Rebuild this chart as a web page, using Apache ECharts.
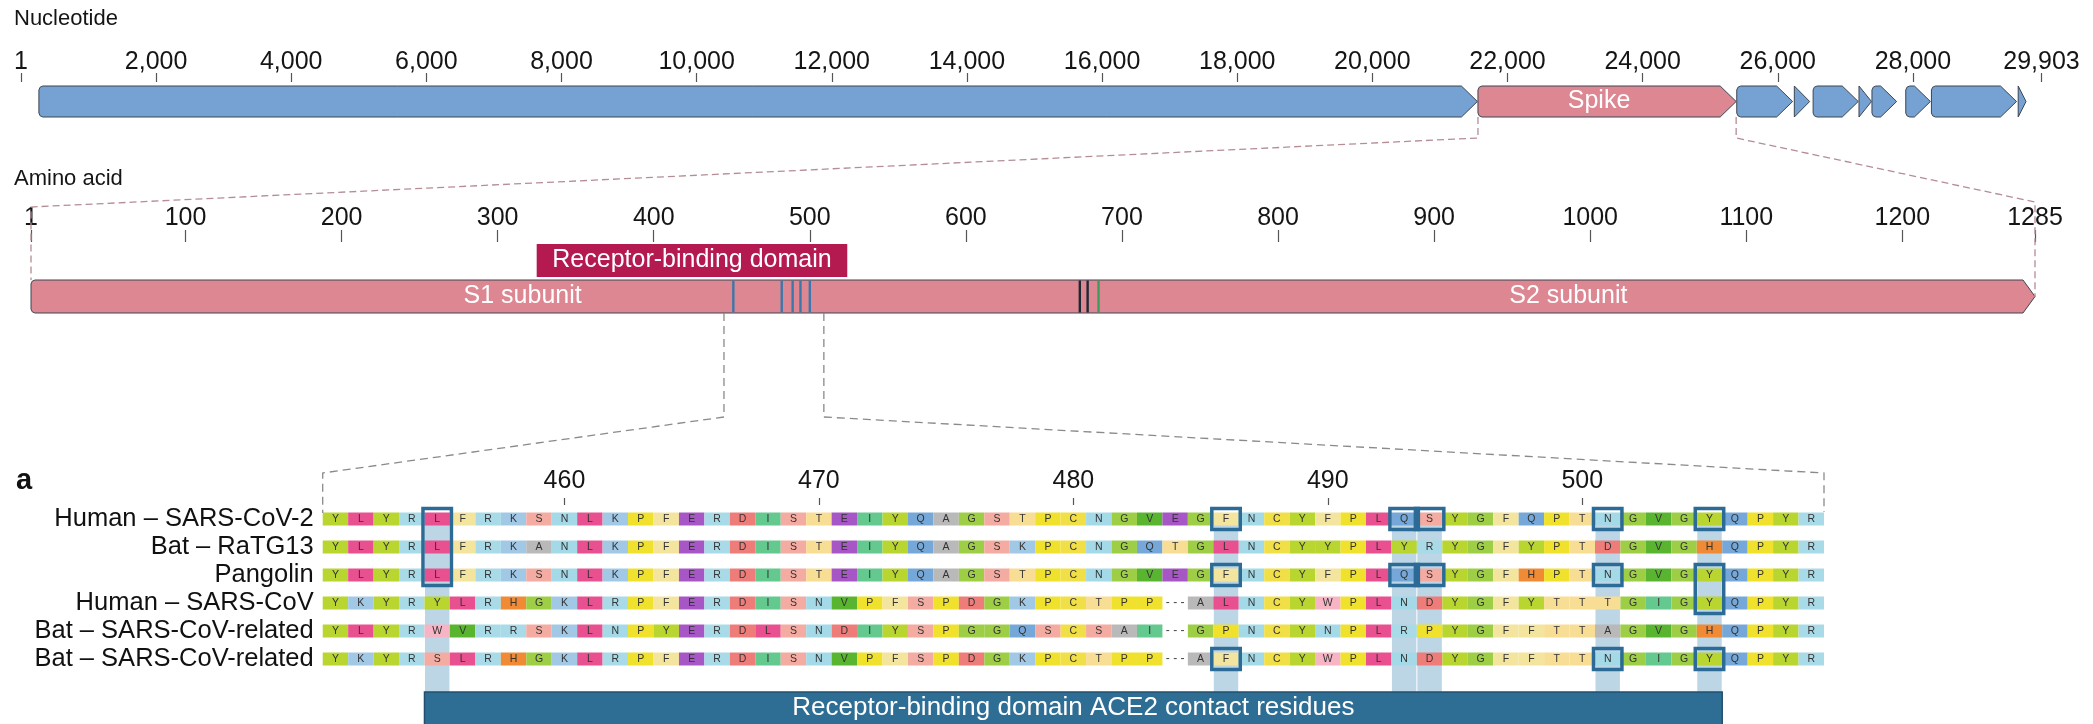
<!DOCTYPE html>
<html>
<head>
<meta charset="utf-8">
<title>SARS-CoV-2 genome, spike and RBD alignment</title>
<script src="https://cdn.jsdelivr.net/npm/echarts@6/dist/echarts.min.js"></script>
<style>
  html, body { margin: 0; padding: 0; background: #fff; }
  #chart { width: 2093px; height: 724px; }
</style>
</head>
<body>
<div id="chart"></div>
<script>
// ---- genome track (nucleotide) ----
const ntTicks = [1, 2000, 4000, 6000, 8000, 10000, 12000, 14000, 16000, 18000, 20000, 22000, 24000, 26000, 28000, 29903];
const geneNames = ['ORF1ab', 'Spike', 'ORF3a', 'E', 'M', 'ORF6', 'ORF7a', 'ORF8', 'N', 'ORF10'];
const geneStart = [266, 21563, 25393, 26245, 26523, 27202, 27394, 27894, 28274, 29558];
const geneEnd = [21555, 25384, 26220, 26472, 27191, 27387, 27759, 28259, 29533, 29674];

// ---- spike protein track (amino acid) ----
const aaTicks = [1, 100, 200, 300, 400, 500, 600, 700, 800, 900, 1000, 1100, 1200, 1285];
const spikeLength = 1285;
const rbdRange = [325, 524];
const subunitNames = ['S1 subunit', 'S2 subunit'];
const subunitLabelAt = [316, 986];
const rbdMarks = [451, 482, 489, 494, 500];
const cleavageMarks = [673, 678];
const glycanMarks = [685];
const zoomWindow = [445, 509];

// ---- alignment ----
const alignTicks = [460, 470, 480, 490, 500];
const alignStart = 451;
const seqNames = [
  'Human – SARS-CoV-2',
  'Bat – RaTG13',
  'Pangolin',
  'Human – SARS-CoV',
  'Bat – SARS-CoV-related',
  'Bat – SARS-CoV-related'
];
const sequences = [
  'YLYRLFRKSNLKPFERDISTEIYQAGSTPCNGVEGFNCYFPLQSYGFQPTNGVGYQPYR',
  'YLYRLFRKANLKPFERDISTEIYQAGSKPCNGQTGLNCYYPLYRYGFYPTDGVGHQPYR',
  'YLYRLFRKSNLKPFERDISTEIYQAGSTPCNGVEGFNCYFPLQSYGFHPTNGVGYQPYR',
  'YKYRYLRHGKLRPFERDISNVPFSPDGKPCTPP-ALNCYWPLNDYGFYTTTGIGYQPYR',
  'YLYRWVRRSKLNPYERDLSNDIYSPGGQSCSAI-GPNCYNPLRPYGFFTTAGVGHQPYR',
  'YKYRSLRHGKLRPFERDISNVPFSPDGKPCTPP-AFNCYWPLNDYGFFTTNGIGYQPYR'
];
const contactResidues = [455, 486, 493, 494, 501, 505];
const contactRange = [455, 505];
const boxResidue = [455, 486, 486, 486, 493, 494, 493, 494, 501, 501, 501, 505, 505, 505];
const boxRowFrom = [0, 0, 2, 5, 0, 0, 2, 2, 0, 2, 5, 0, 2, 5];
const boxRowTo = [2, 0, 2, 5, 0, 0, 2, 2, 0, 2, 5, 0, 3, 5];

// residue colours
const residueColor = {
  Y: '#b9d530', L: '#e8508f', R: '#a8dbe7', F: '#f4e59e', K: '#a1c9e6',
  S: '#f4aba1', N: '#a4d9e8', P: '#efe12c', E: '#a757c5', D: '#ee7d7a',
  I: '#63c98e', T: '#f8dd94', Q: '#75a8d8', A: '#b9b9b9', G: '#9dce46',
  C: '#f0df47', V: '#59b52f', H: '#f08a35', W: '#f6b4c4'
};

const FONT = "'Liberation Sans', Arial, Helvetica, sans-serif";
const BLUE_GENE = '#76a1d3';
const PINK = '#dc8792';
const OUTLINE = '#3b4652';

const cellData = [];
const cellLetters = [];
sequences.forEach((s, row) => {
  for (let c = 0; c < s.length; c++) {
    cellData.push([alignStart + c, row]);
    cellLetters.push(s[c]);
  }
});

function arrowPoints(x0, x1, top, bot, head, r) {
  const mid = (top + bot) / 2;
  if (x1 - x0 <= head) return [[x0, top], [x1, mid], [x0, bot]];
  const k = r * 0.3;
  return [
    [x0 + r, top], [x1 - head, top], [x1, mid], [x1 - head, bot], [x0 + r, bot],
    [x0 + k, bot - k], [x0, bot - r], [x0, top + r], [x0 + k, top + k]
  ];
}

const chart = echarts.init(document.getElementById('chart'));

const axisLabelStyle = { fontSize: 25, color: '#151515', fontFamily: FONT };
const tickStyle = { color: '#555', width: 1.2 };
const noLine = { show: false, onZero: false };

// the grids start at the tick line; the bars fill the lower part (y 0..1)
const option = {
  animation: false,
  textStyle: { fontFamily: FONT },
  grid: [
    { left: 21, width: 2020.5, top: 82, height: 35, outerBoundsMode: 'none' },
    { left: 31, width: 2004, top: 242, height: 71, outerBoundsMode: 'none' },
    { left: 322.7, width: 1501.3, top: 505, height: 168, outerBoundsMode: 'none' }
  ],
  xAxis: [
    {
      gridIndex: 0, type: 'value', min: 1, max: 29903, position: 'top',
      axisLine: noLine, splitLine: { show: false },
      axisTick: { show: true, customValues: ntTicks, length: 9, lineStyle: tickStyle },
      axisLabel: Object.assign({ show: true, customValues: ntTicks, margin: 7,
        formatter: v => v.toLocaleString('en-US') }, axisLabelStyle)
    },
    {
      gridIndex: 1, type: 'value', min: 1, max: spikeLength, position: 'top',
      axisLine: noLine, splitLine: { show: false },
      axisTick: { show: true, customValues: aaTicks, length: 12, lineStyle: tickStyle },
      axisLabel: Object.assign({ show: true, customValues: aaTicks, margin: 11, formatter: v => String(v) }, axisLabelStyle)
    },
    {
      gridIndex: 2, type: 'value', min: alignStart - 0.5, max: alignStart + 58.5, position: 'top',
      axisLine: noLine, splitLine: { show: false },
      axisTick: { show: true, customValues: alignTicks, length: 7, lineStyle: tickStyle },
      axisLabel: Object.assign({ show: true, customValues: alignTicks, margin: 11, formatter: v => String(v) }, axisLabelStyle)
    }
  ],
  yAxis: [
    { gridIndex: 0, type: 'value', min: 0, max: 35 / 31, show: false },
    { gridIndex: 1, type: 'value', min: 0, max: 71 / 33, show: false },
    {
      gridIndex: 2, type: 'category', data: seqNames, inverse: true,
      axisLine: noLine, axisTick: { show: false }, splitLine: { show: false },
      axisLabel: { interval: 0, margin: 9, fontSize: 25.5, color: '#111', fontFamily: FONT }
    }
  ],
  series: [
    // genome genes
    {
      type: 'custom', xAxisIndex: 0, yAxisIndex: 0, clip: false,
      data: geneStart.map((s, i) => [s, geneEnd[i]]),
      renderItem: (params, api) => {
        const x0 = api.coord([api.value(0), 0])[0];
        const x1 = api.coord([api.value(1), 0])[0];
        const top = api.coord([0, 1])[1];
        const bot = api.coord([0, 0])[1];
        const name = geneNames[params.dataIndex];
        const isSpike = name === 'Spike';
        const children = [{
          type: 'polygon',
          shape: { points: arrowPoints(x0, x1, top, bot, 16, 4) },
          style: { fill: isSpike ? PINK : BLUE_GENE, stroke: OUTLINE, lineWidth: 1 }
        }];
        if (isSpike) {
          children.push({
            type: 'text',
            style: { text: name, x: (x0 + x1 - 16) / 2, y: (top + bot) / 2, fill: '#fff',
              fontSize: 25, fontFamily: FONT, align: 'center', verticalAlign: 'middle' }
          });
        }
        return { type: 'group', children };
      }
    },
    // spike protein bar
    {
      type: 'custom', xAxisIndex: 1, yAxisIndex: 1, clip: false,
      data: [[1, spikeLength]],
      renderItem: (params, api) => {
        const x0 = api.coord([api.value(0), 0])[0];
        const x1 = api.coord([api.value(1), 0])[0];
        const top = api.coord([0, 1])[1];
        const bot = api.coord([0, 0])[1];
        const children = [{
          type: 'polygon',
          shape: { points: arrowPoints(x0, x1, top, bot, 12, 4) },
          style: { fill: PINK, stroke: OUTLINE, lineWidth: 1 }
        }];
        subunitNames.forEach((n, i) => {
          children.push({
            type: 'text',
            style: { text: n, x: api.coord([subunitLabelAt[i], 0])[0], y: (top + bot) / 2,
              fill: '#fff', fontSize: 25, fontFamily: FONT, align: 'center', verticalAlign: 'middle' }
          });
        });
        return { type: 'group', children };
      }
    },
    // receptor-binding domain box
    {
      type: 'custom', xAxisIndex: 1, yAxisIndex: 1, clip: false,
      data: [rbdRange],
      renderItem: (params, api) => {
        const x0 = api.coord([api.value(0), 0])[0];
        const x1 = api.coord([api.value(1), 0])[0];
        const top = api.coord([0, 1])[1];
        return {
          type: 'group',
          children: [
            { type: 'rect', shape: { x: x0, y: top - 36, width: x1 - x0, height: 33 },
              style: { fill: '#b4194f' } },
            { type: 'text', style: { text: 'Receptor-binding domain', x: (x0 + x1) / 2, y: top - 19.5,
              fill: '#fff', fontSize: 25, fontFamily: FONT, align: 'center', verticalAlign: 'middle' } }
          ]
        };
      }
    },
    // marks on spike bar
    {
      type: 'custom', xAxisIndex: 1, yAxisIndex: 1, clip: false,
      data: rbdMarks.map(v => [v, 0]).concat(cleavageMarks.map(v => [v, 1]), glycanMarks.map(v => [v, 2])),
      renderItem: (params, api) => {
        const x = api.coord([api.value(0), 0])[0];
        const top = api.coord([0, 1])[1];
        const bot = api.coord([0, 0])[1];
        const col = ['#3d77aa', '#1c2933', '#3d9b5c'][api.value(1)];
        return { type: 'line', shape: { x1: x, y1: top + 0.5, x2: x, y2: bot - 0.5 },
          style: { stroke: col, lineWidth: 2.4 } };
      }
    },
    // contact residue column stripes
    {
      type: 'custom', xAxisIndex: 2, yAxisIndex: 2, clip: false,
      data: contactResidues.map(r => [r]),
      renderItem: (params, api) => {
        const r = api.value(0);
        const x0 = api.coord([r - 0.5, 0])[0];
        const x1 = api.coord([r + 0.5, 0])[0];
        const top = api.coord([r, 0])[1] - 6;
        const bot = api.coord([r, seqNames.length - 1])[1] + 33;
        return { type: 'rect', shape: { x: x0 + 0.5, y: top, width: x1 - x0 - 1, height: bot - top },
          style: { fill: '#bcd6e6' } };
      }
    },
    // alignment cells
    {
      type: 'custom', xAxisIndex: 2, yAxisIndex: 2, clip: false,
      data: cellData,
      renderItem: (params, api) => {
        const r = api.value(0);
        const row = api.value(1);
        const x0 = api.coord([r - 0.5, row])[0];
        const x1 = api.coord([r + 0.5, row])[0];
        const yc = api.coord([r, row])[1];
        const letter = cellLetters[params.dataIndex];
        if (letter === '-') {
          return { type: 'text', style: { text: '- - -', x: (x0 + x1) / 2, y: yc, fill: '#444',
            fontSize: 12, fontFamily: FONT, align: 'center', verticalAlign: 'middle' } };
        }
        return {
          type: 'group',
          children: [
            { type: 'rect', shape: { x: x0, y: yc - 6.5, width: x1 - x0, height: 13 },
              style: { fill: residueColor[letter] || '#ddd' } },
            { type: 'text', style: { text: letter, x: (x0 + x1) / 2, y: yc + 0.5, fill: '#333',
              fontSize: 10.5, fontFamily: FONT, align: 'center', verticalAlign: 'middle' } }
          ]
        };
      }
    },
    // highlight boxes
    {
      type: 'custom', xAxisIndex: 2, yAxisIndex: 2, clip: false,
      data: boxResidue.map((r, i) => [r, boxRowFrom[i], boxRowTo[i]]),
      renderItem: (params, api) => {
        const r = api.value(0);
        const x0 = api.coord([r - 0.5, 0])[0] - 1.5;
        const x1 = api.coord([r + 0.5, 0])[0] + 1.5;
        const top = api.coord([r, api.value(1)])[1] - 10.5;
        const bot = api.coord([r, api.value(2)])[1] + 10.5;
        return { type: 'rect', shape: { x: x0, y: top, width: x1 - x0, height: bot - top },
          style: { fill: null, stroke: '#2b6b96', lineWidth: 3.5 } };
      }
    },
    // ACE2 contact residues bar
    {
      type: 'custom', xAxisIndex: 2, yAxisIndex: 2, clip: false,
      data: [contactRange],
      renderItem: (params, api) => {
        const x0 = api.coord([api.value(0) - 0.5, 0])[0];
        const x1 = api.coord([api.value(1) + 0.5, 0])[0];
        const top = api.coord([0, seqNames.length - 1])[1] + 33;
        return {
          type: 'group',
          children: [
            { type: 'rect', shape: { x: x0, y: top, width: x1 - x0, height: 40 },
              style: { fill: '#2e6e95', stroke: '#22506c', lineWidth: 1.5 } },
            { type: 'text', style: { text: 'Receptor-binding domain ACE2 contact residues',
              x: (x0 + x1) / 2, y: top + 16, fill: '#fff', fontSize: 26, fontFamily: FONT,
              align: 'center', verticalAlign: 'middle' } }
          ]
        };
      }
    }
  ]
};

chart.setOption(option);

// dashed zoom connectors, placed through the axes' own scales
const px = (axis, v) => chart.convertToPixel({ xAxisIndex: axis }, v);
const ntBot = 117, aaTop = 280, aaBot = 313, alignTop = 473;
const dashTop = { stroke: '#b48d95', lineWidth: 1.3, lineDash: [7, 4], fill: null };
const dashLow = { stroke: '#8a8a8a', lineWidth: 1.3, lineDash: [8, 5], fill: null };
const sStart = px(0, geneStart[1]);
const sEnd = px(0, geneEnd[1]);
const a0 = px(1, 1);
const a1 = px(1, spikeLength);
const z0 = px(1, zoomWindow[0]);
const z1 = px(1, zoomWindow[1]);
const l0 = px(2, alignStart - 0.5);
const l1 = px(2, alignStart + 58.5);

chart.setOption({
  graphic: [
    { type: 'text', left: 14, top: 8, style: { text: 'Nucleotide', fontSize: 22, fill: '#151515', fontFamily: FONT } },
    { type: 'text', left: 14, top: 168, style: { text: 'Amino acid', fontSize: 22, fill: '#151515', fontFamily: FONT } },
    { type: 'text', left: 16, top: 466, style: { text: 'a', fontSize: 29, fontWeight: 'bold', fill: '#111', fontFamily: FONT } },
    { type: 'polyline', z: 10, shape: { points: [[sStart, ntBot], [sStart, 138], [a0, 207], [a0, aaTop]] }, style: dashTop },
    { type: 'polyline', z: 10, shape: { points: [[sEnd, ntBot], [sEnd, 138], [a1, 202], [a1, 296.5]] }, style: dashTop },
    { type: 'polyline', z: 10, shape: { points: [[z0, aaBot], [z0, 417], [l0, alignTop], [l0, 513]] }, style: dashLow },
    { type: 'polyline', z: 10, shape: { points: [[z1, aaBot], [z1, 417], [l1, alignTop], [l1, 512]] }, style: dashLow }
  ]
});

window.addEventListener('resize', () => chart.resize());
</script>
</body>
</html>
